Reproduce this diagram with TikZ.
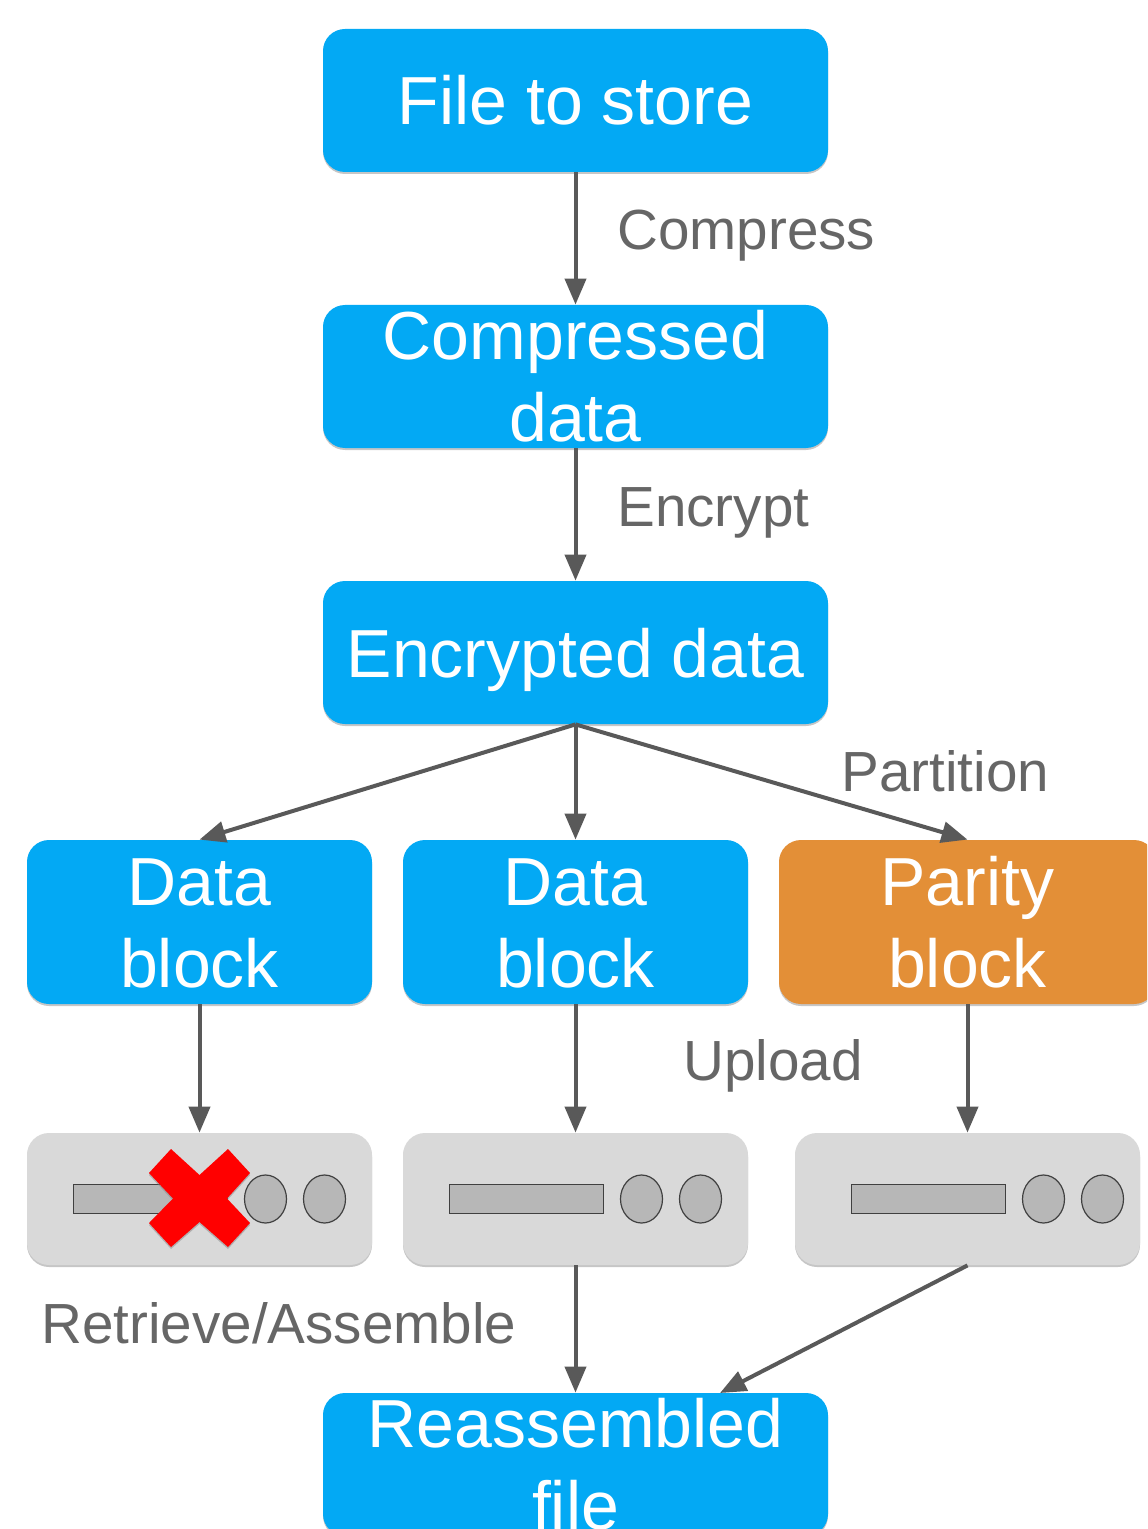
\documentclass[tikz,border=0pt]{standalone}
\usepackage{fontspec}
\setmainfont{Liberation Sans}
\usetikzlibrary{arrows.meta}
\usetikzlibrary{shadows}
\usetikzlibrary{shapes.geometric}
\definecolor{boxBlue}{RGB}{3,169,244}
\definecolor{boxOrange}{RGB}{227,143,55}
\definecolor{serverGray}{RGB}{217,217,217}
\definecolor{slotGray}{RGB}{183,183,183}
\definecolor{lineGray}{RGB}{89,89,89}
\definecolor{labelGray}{RGB}{102,102,102}
\tikzset{
  softShadow/.style={drop shadow={shadow xshift=0pt,shadow yshift=-1pt,opacity=0.45}},
  stage/.style={softShadow,fill=boxBlue,text=white,rounded corners=11pt,inner sep=0pt,
    align=center,font=\fontsize{34}{41}\selectfont,minimum width=252.5pt,minimum height=71.5pt},
  block/.style={stage,minimum width=172.5pt,minimum height=82pt},
  server/.style={softShadow,fill=serverGray,rounded corners=11pt,minimum width=172.5pt,minimum height=66pt},
  slot/.style={draw=black!75,fill=slotGray,line width=0.6pt,inner sep=0pt,minimum width=77pt,minimum height=14.5pt},
  lamp/.style={slot,ellipse,minimum width=21pt,minimum height=24pt},
  flow/.style={draw=lineGray,line width=2pt,-{Triangle[length=13pt,width=10.5pt]}},
  step label/.style={text=labelGray,anchor=base west,inner sep=0pt,font=\fontsize{28.3}{32}\selectfont},
}
\begin{document}
\begin{tikzpicture}[x=0.5pt,y=-0.5pt]
\path [use as bounding box,clip] (0,0) rectangle (1147,1529);

\node [stage] (file) at (575.5,100.5) {File to store};
\node [stage] (compressed) at (575.5,376.5) {Compressed\\data};
\node [stage,text depth=0pt] (encrypted) at (575.5,652.5) {Encrypted data};
\node [block] (blockA) at (199.5,922) {\vphantom{i}Data\\block};
\node [block] (blockB) at (575.5,922) {\vphantom{i}Data\\block};
\node [block,fill=boxOrange,minimum width=188.5pt] (parity) at (967.5,922) {Parity\\block};
\node [stage] (reassembled) at (575.5,1464.5) {Reassembled\\file};

% servers with their slot and two lamps
\foreach \name/\cx/\inset in {serverA/199.5/0,serverB/575.5/0,serverC/967.5/10} {
  \node [server] (\name) at (\cx,1199) {};
  \node [slot] (\name slot) at (\cx+\inset-49,1199) {};
  \node [lamp] (\name lampA) at (\cx+\inset+66,1199) {};
  \node [lamp] (\name lampB) at (\cx+\inset+125,1199) {};
}

\fill [softShadow,red] (171,1149) -- (199.5,1175) -- (228,1149) -- (250,1173) -- (227,1198.5)
  -- (250,1223) -- (228,1247) -- (199.5,1222) -- (171,1247) -- (149,1223) -- (173,1198.5)
  -- (149,1173) -- cycle;

\coordinate (reassembledIn) at (720,1393);

\draw [flow] (file) -- (compressed);
\draw [flow] (compressed) -- (encrypted);
\draw [flow] (encrypted.south) -- (blockA.north);
\draw [flow] (encrypted.south) -- (blockB.north);
\draw [flow] (encrypted.south) -- (parity.north);
\draw [flow] (blockA) -- (serverA);
\draw [flow] (blockB) -- (serverB);
\draw [flow] (parity) -- (serverC);
\draw [flow] (serverB) -- (reassembled);
\draw [flow] (serverC.south) -- (reassembledIn);

\node [step label] (compressLabel) at (617,250) {Compress};
\node [step label] (encryptLabel) at (617,526) {Encrypt};
\node [step label] (partitionLabel) at (841,791) {Partition};
\node [step label] (uploadLabel) at (683,1080) {Upload};
\node [step label] (retrieveLabel) at (41,1343) {Retrieve/Assemble};
\end{tikzpicture}
\end{document}
